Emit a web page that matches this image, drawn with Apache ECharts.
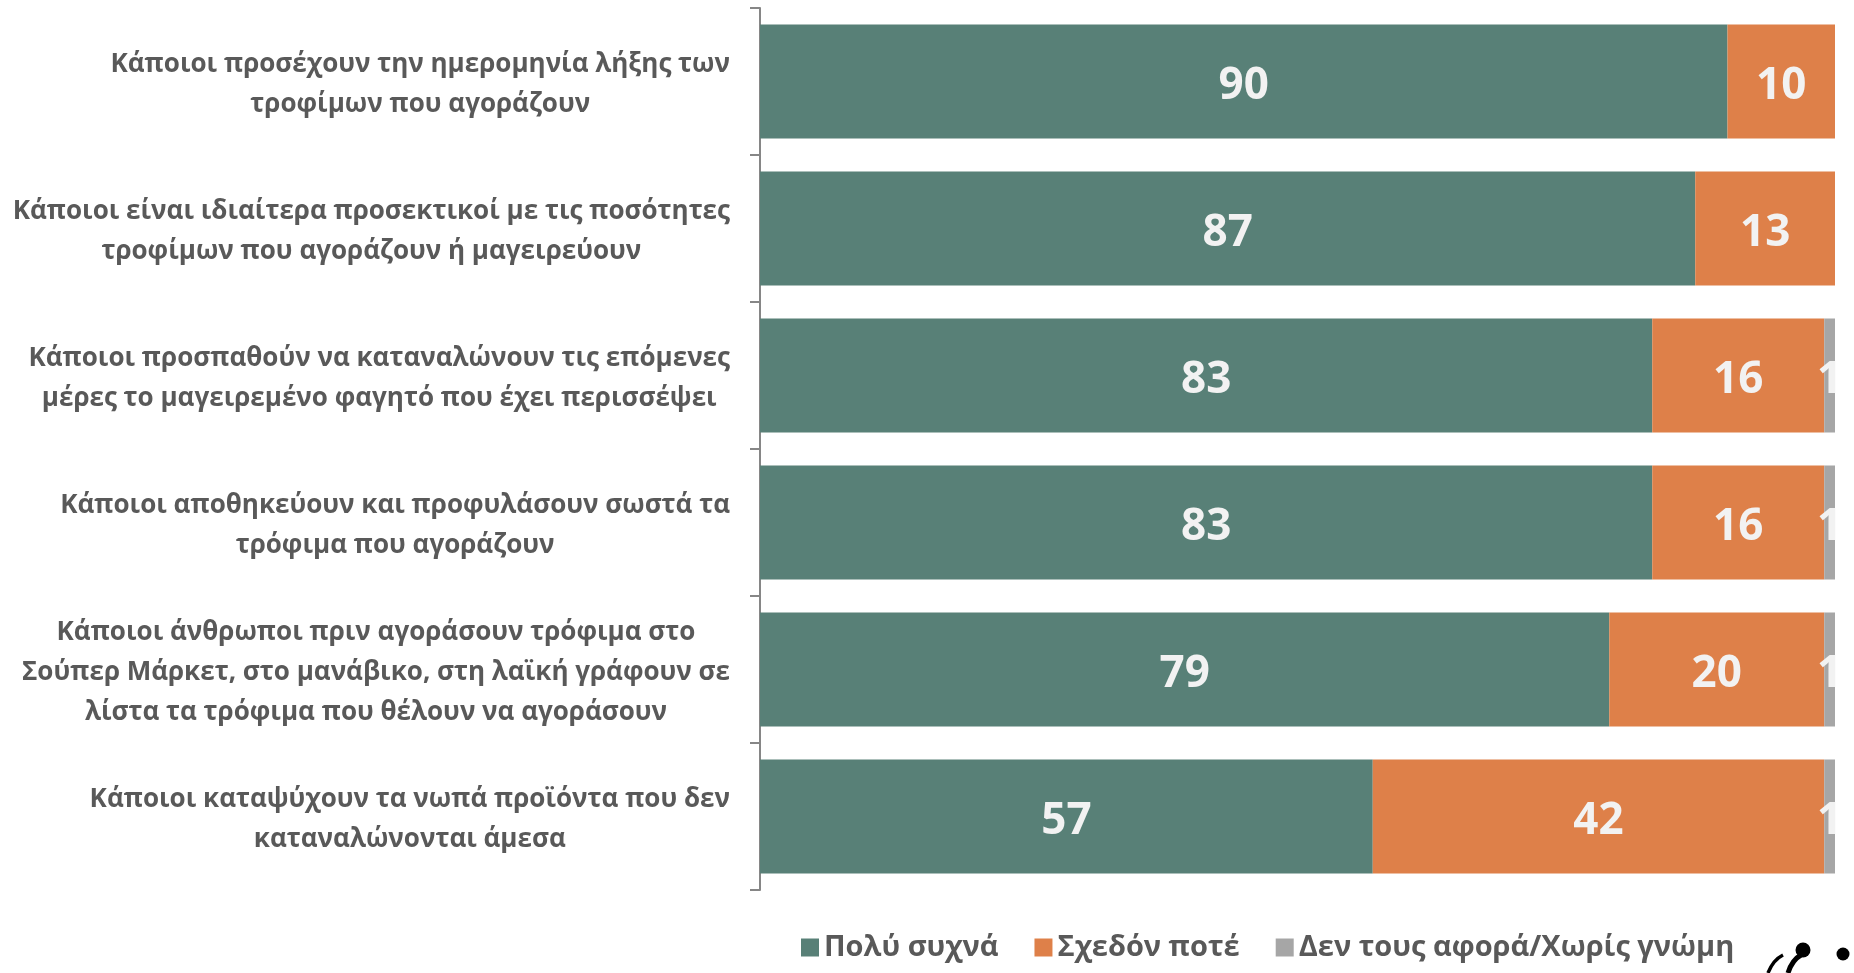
<!DOCTYPE html>
<html>
<head>
<meta charset="utf-8">
<script src="https://cdn.jsdelivr.net/npm/echarts@6/dist/echarts.min.js"></script>
<style>
html,body{margin:0;padding:0;background:#fff;}
#chart{width:1854px;height:973px;}
</style>
</head>
<body>
<div id="chart"></div>
<script>
const categories = [
  "Κάποιοι προσέχουν την ημερομηνία λήξης των\nτροφίμων που αγοράζουν",
  "Κάποιοι είναι ιδιαίτερα προσεκτικοί με τις ποσότητες\nτροφίμων που αγοράζουν ή μαγειρεύουν",
  "Κάποιοι προσπαθούν να καταναλώνουν τις επόμενες\nμέρες το μαγειρεμένο φαγητό που έχει περισσέψει",
  "Κάποιοι αποθηκεύουν και προφυλάσουν σωστά τα\nτρόφιμα που αγοράζουν",
  "Κάποιοι άνθρωποι πριν αγοράσουν τρόφιμα στο\nΣούπερ Μάρκετ, στο μανάβικο, στη λαϊκή γράφουν σε\nλίστα τα τρόφιμα που θέλουν να αγοράσουν",
  "Κάποιοι καταψύχουν τα νωπά προϊόντα που δεν\nκαταναλώνονται άμεσα"
];
const seriesNames = ["Πολύ συχνά", "Σχεδόν ποτέ", "Δεν τους αφορά/Χωρίς γνώμη"];
const veryOften = [90, 87, 83, 83, 79, 57];
const almostNever = [10, 13, 16, 16, 20, 42];
const noOpinion = [0, 0, 1, 1, 1, 1];

const FONT = "'Open Sans', sans-serif";
const colors = ['#588077', '#DE8049', '#A6A6A6'];

const chart = echarts.init(document.getElementById('chart'));

function mkSeries(name, data, color) {
  return {
    name: name,
    type: 'bar',
    stack: 'total',
    data: data,
    barCategoryGap: '22.5%',
    itemStyle: { color: color },
    label: {
      show: true,
      position: 'inside',
      offset: [0, 5],
      color: '#F2F2F2',
      fontFamily: FONT,
      fontWeight: 'bold',
      fontSize: 44,
      formatter: p => (p.value ? String(p.value) : '')
    }
  };
}

chart.setOption({
  animation: false,
  color: colors,
  grid: { left: 760, right: 19, top: 8, bottom: 83, outerBoundsMode: 'none', containLabel: false },
  xAxis: {
    type: 'value', min: 0, max: 100, show: false
  },
  yAxis: {
    type: 'category',
    inverse: true,
    data: categories,
    axisLine: { show: true, lineStyle: { color: '#868686', width: 2 } },
    axisTick: { show: true, length: 10, lineStyle: { color: '#868686', width: 2 } },
    axisLabel: {
      margin: 30,
      padding: [6, 0, 0, 0],
      formatter: v => v.split('\n').map(s => '{c|' + s + '}').join('\n'),
      rich: {
        c: {
          align: 'center',
          fontFamily: FONT,
          fontWeight: 'bold',
          fontSize: 26,
          lineHeight: 40,
          color: '#595959'
        }
      }
    }
  },
  legend: {
    left: 796,
    top: 928,
    itemWidth: 18,
    itemHeight: 18,
    itemGap: 36,
    icon: 'rect',
    textStyle: { fontFamily: FONT, fontWeight: 'bold', fontSize: 29, color: '#595959' },
    data: seriesNames
  },
  graphic: [
    { type: 'circle', shape: { cx: 1803, cy: 950, r: 7.5 }, style: { fill: '#000' } },
    { type: 'circle', shape: { cx: 1843, cy: 954, r: 6.5 }, style: { fill: '#000' } },
    { type: 'bezierCurve', shape: { x1: 1801, y1: 955, cpx1: 1792, cpy1: 960, x2: 1788, y2: 973 }, style: { stroke: '#000', lineWidth: 5, fill: null } },
    { type: 'bezierCurve', shape: { x1: 1783, y1: 955, cpx1: 1773, cpy1: 960, x2: 1768, y2: 973 }, style: { stroke: '#000', lineWidth: 3.5, fill: null } }
  ],
  series: [
    mkSeries(seriesNames[0], veryOften, colors[0]),
    mkSeries(seriesNames[1], almostNever, colors[1]),
    mkSeries(seriesNames[2], noOpinion, colors[2])
  ]
});
</script>
</body>
</html>
